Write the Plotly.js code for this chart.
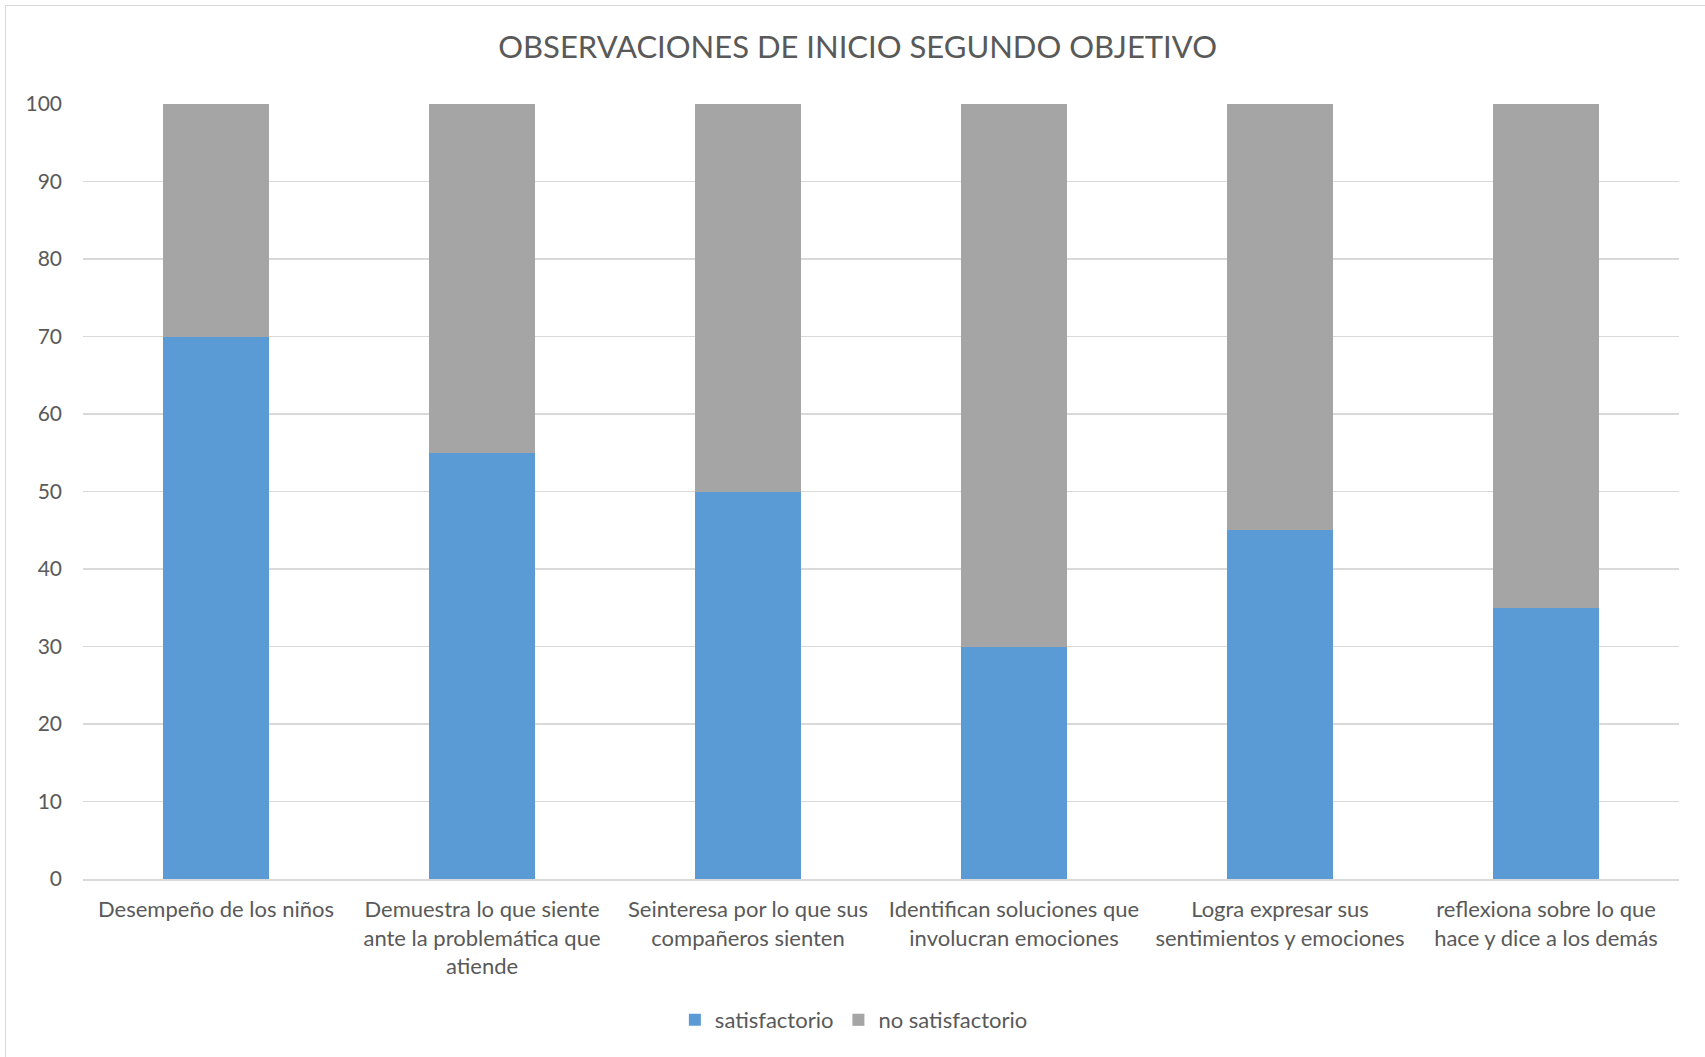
<!DOCTYPE html>
<html>
<head>
<meta charset="utf-8">
<script src="https://cdn.plot.ly/plotly-3.0.1.min.js"></script>
<style>
  html, body { margin: 0; padding: 0; background: #fff; overflow: hidden; }
  #chart { width: 1705px; height: 1057px; }
  #frame { position: absolute; left: 5px; top: 5px; width: 1710px; height: 1100px; border: 1px solid #D9D9D9; pointer-events: none; }
</style>
</head>
<body>
<div id="chart"></div>
<div id="frame"></div>
<script>
const categories = [
  "Desempeño de los niños",
  "Demuestra lo que siente<br>ante la problemática que<br>atiende",
  "Seinteresa por lo que sus<br>compañeros sienten",
  "Identifican soluciones que<br>involucran emociones",
  "Logra expresar sus<br>sentimientos y emociones",
  "reflexiona sobre lo que<br>hace y dice a los demás"
];
const satisfactorio = [70, 55, 50, 30, 45, 35];
const noSatisfactorio = [30, 45, 50, 70, 55, 65];
const yTicks = [0, 10, 20, 30, 40, 50, 60, 70, 80, 90, 100];

const FONT = "Lato, 'Open Sans', sans-serif";
const TEXT = "#595959";

const data = [
  { type: "bar", name: "satisfactorio", x: categories, y: satisfactorio,
    marker: { color: "#5B9BD5" } },
  { type: "bar", name: "no satisfactorio", x: categories, y: noSatisfactorio,
    marker: { color: "#A5A5A5" } }
];

const layout = {
  width: 1705, height: 1057,
  barmode: "stack",
  bargap: 0.6,
  paper_bgcolor: "#fff", plot_bgcolor: "#fff",
  margin: { l: 83, r: 26, t: 104, b: 178 },
  font: { family: FONT, color: TEXT, size: 22 },
  title: { text: "OBSERVACIONES DE INICIO SEGUNDO OBJETIVO",
    font: { family: FONT, size: 31, color: TEXT },
    x: 0.503, xref: "container", xanchor: "center", y: 0.955, yref: "container", yanchor: "middle" },
  xaxis: {
    type: "category", tickangle: 0, showgrid: false,
    showline: true, linecolor: "#D9D9D9", linewidth: 1.5,
    ticks: "", ticklabelstandoff: 10,
    tickfont: { family: FONT, size: 22, color: TEXT }
  },
  yaxis: {
    range: [0, 100], tickvals: yTicks, ticktext: yTicks.map(String),
    showgrid: true, gridcolor: "#D9D9D9", gridwidth: 1.5,
    zeroline: false, showline: false, ticks: "",
    ticklabelstandoff: 20,
    tickfont: { family: FONT, size: 21, color: TEXT }
  },
  legend: {
    orientation: "h", x: 0.483, xanchor: "center", y: -0.182, yanchor: "middle",
    font: { family: FONT, size: 22, color: TEXT },
    traceorder: "normal", itemwidth: 30
  },
  showlegend: true
};

Plotly.newPlot("chart", data, layout, { displayModeBar: false, staticPlot: true });
</script>
</body>
</html>
